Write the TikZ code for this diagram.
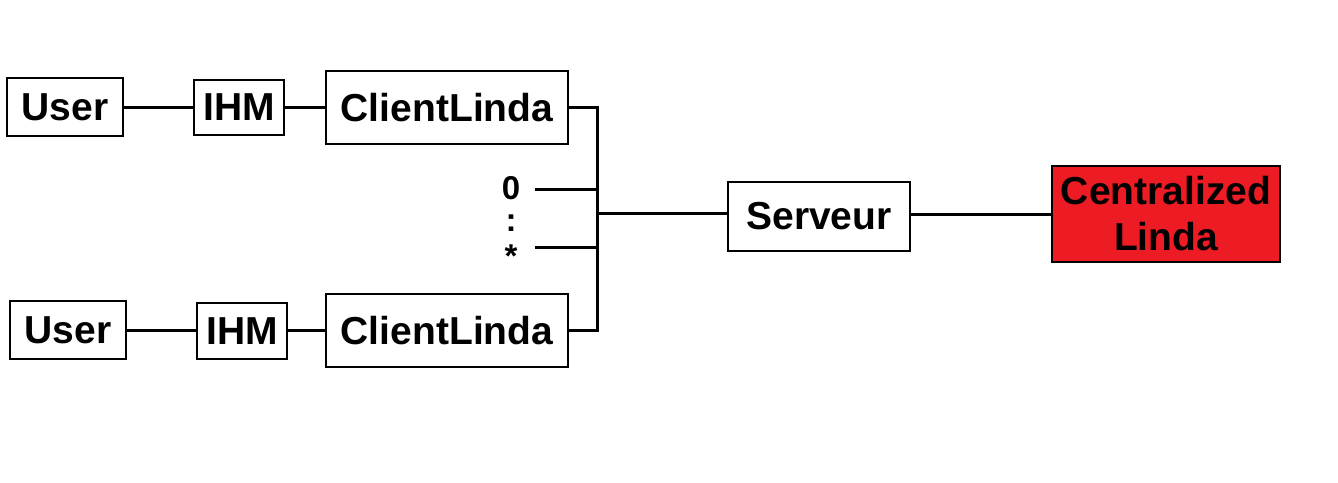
\documentclass[tikz,border=0pt]{standalone}
\usepackage{fontspec}
\setmainfont{Liberation Sans}
\definecolor{boxred}{HTML}{ED1C24}
\begin{document}
\begin{tikzpicture}[x=1pt,y=-1pt,
  box/.style={draw=black, line width=1.2pt, fill=white, inner sep=0pt, font=\fontsize{39}{42}\selectfont\bfseries},
  wire/.style={line width=3pt},
  lbl/.style={inner sep=0pt, text depth=0pt, anchor=base, font=\fontsize{33}{35}\selectfont\bfseries}]
\useasboundingbox[fill=white] (0,0) rectangle (1338,482);
\node[box, minimum width=116pt, minimum height=58pt] (user1) at (65,107) {User};
\node[box, minimum width=90pt, minimum height=55pt] (ihm1) at (239,107.5) {IHM};
\node[box, minimum width=242pt, minimum height=73pt] (cl1) at (447,107.5) {ClientLinda};
\node[box, minimum width=116pt, minimum height=58pt] (user2) at (68,330) {User};
\node[box, minimum width=90pt, minimum height=56pt] (ihm2) at (242,331) {IHM};
\node[box, minimum width=242pt, minimum height=73pt] (cl2) at (447,330.5) {ClientLinda};
\node[box, minimum width=182pt, minimum height=69pt] (srv) at (819,216.5) {Serveur};
\node[box, fill=boxred, minimum width=228pt, minimum height=96pt, align=center, font=\fontsize{39}{46}\selectfont\bfseries] (cent) at (1166,214) {Centralized\\Linda};
\node[lbl] (zero) at (511,199) {0};
\node[lbl] (dots) at (511,231) {:};
\node[lbl] (star) at (511,267) {*};
\coordinate (z0) at (535,189);
\coordinate (s0) at (535,247);
\coordinate (top) at (597,107);
\coordinate (bot) at (597,330);
\coordinate (mid) at (597,213);
\draw[wire] (user1.east) -- (ihm1.west|-user1.east);
\draw[wire] (ihm1.east|-top) -- (cl1.west|-top);
\draw[wire] (user2.east) -- (ihm2.west|-user2.east);
\draw[wire] (ihm2.east|-bot) -- (cl2.west|-bot);
\draw[wire] (cl1.east|-top) -- (top) -- (bot) -- (cl2.east|-bot);
\draw[wire] (z0) -- (z0-|top);
\draw[wire] (s0) -- (s0-|top);
\draw[wire] (mid) -- (srv.west|-mid);
\draw[wire] (srv.east|-cent.west) -- (cent.west);
\end{tikzpicture}
\end{document}
